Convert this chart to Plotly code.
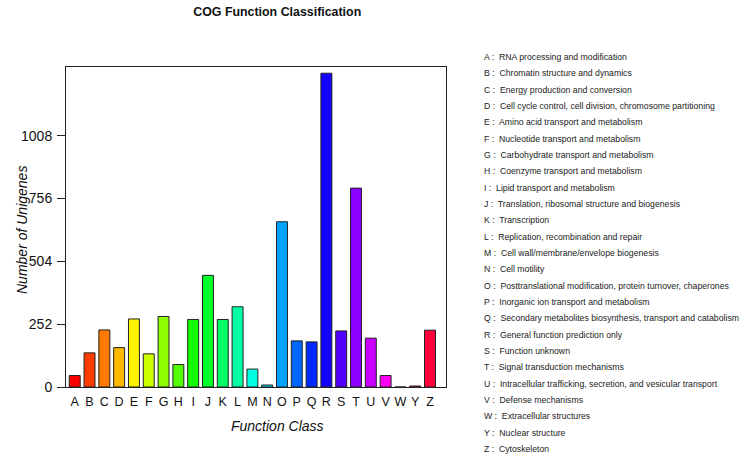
import colorsys
import plotly.graph_objects as go

# COG classes and counts
classes = ['A', 'B', 'C', 'D', 'E', 'F', 'G', 'H', 'I', 'J', 'K', 'L', 'M',
           'N', 'O', 'P', 'Q', 'R', 'S', 'T', 'U', 'V', 'W', 'Y', 'Z']
counts = [46, 137, 229, 158, 273, 133, 283, 90, 271, 448, 271, 322, 72,
          8, 663, 185, 181, 1259, 225, 798, 196, 46, 0, 4, 228]
descriptions = [
    'RNA processing and modification',
    'Chromatin structure and dynamics',
    'Energy production and conversion',
    'Cell cycle control, cell division, chromosome partitioning',
    'Amino acid transport and metabolism',
    'Nucleotide transport and metabolism',
    'Carbohydrate transport and metabolism',
    'Coenzyme transport and metabolism',
    'Lipid transport and metabolism',
    'Translation, ribosomal structure and biogenesis',
    'Transcription',
    'Replication, recombination and repair',
    'Cell wall/membrane/envelope biogenesis',
    'Cell motility',
    'Posttranslational modification, protein turnover, chaperones',
    'Inorganic ion transport and metabolism',
    'Secondary metabolites biosynthesis, transport and catabolism',
    'General function prediction only',
    'Function unknown',
    'Signal transduction mechanisms',
    'Intracellular trafficking, secretion, and vesicular transport',
    'Defense mechanisms',
    'Extracellular structures',
    'Nuclear structure',
    'Cytoskeleton',
]
y_ticks = [0, 252, 504, 756, 1008]

FONT = 'Liberation Sans, Arial, sans-serif'

# R-style rainbow palette
n = len(classes)
colors = []
for i in range(n):
    r, g, b = colorsys.hsv_to_rgb(i / n, 1, 1)
    colors.append('rgb(%d,%d,%d)' % (r * 255, g * 255, b * 255))

fig = go.Figure()
fig.add_trace(go.Bar(
    x=classes, y=counts,
    marker=dict(color=colors, line=dict(color='#222', width=1)),
    showlegend=False,
))

# class legend on the right, one text row per class
W, H = 743, 457
L, R, T, B = 66, 297, 67, 70
pw, ph = W - L - R, H - T - B
for i, (c, d) in enumerate(zip(classes, descriptions)):
    ypix = 57 + i * 16.33
    fig.add_annotation(
        x=(482 - L) / pw, y=(H - B - ypix) / ph, xref='paper', yref='paper',
        text=c + ' :  ' + d, showarrow=False, xanchor='left', yanchor='middle',
        font=dict(family=FONT, size=8.7, color='#222'),
    )

fig.add_annotation(
    x=(277 - L) / pw, y=(H - B - 436) / ph, xref='paper', yref='paper',
    text='<i>Function Class</i>', showarrow=False,
    font=dict(family=FONT, size=14, color='#111'),
)
fig.add_annotation(
    x=(12 - L) / pw, y=(H - B - 230) / ph, xref='paper', yref='paper',
    text='<i>Number of Unigenes</i>', showarrow=False, textangle=-90,
    font=dict(family=FONT, size=14, color='#111'),
)

fig.update_layout(
    width=W, height=H,
    margin=dict(l=L, r=R, t=T, b=B),
    paper_bgcolor='white', plot_bgcolor='white',
    bargap=0.26,
    title=dict(text='<b>COG Function Classification</b>', x=413 / W, xanchor='center',
               y=1 - 12 / H, yanchor='middle', xref='paper',
               font=dict(family=FONT, size=12.4, color='#111')),
    xaxis=dict(range=[-0.59, 25.08], showline=True, mirror=True, linecolor='#222',
               linewidth=1, ticks='', showgrid=False, ticklabelstandoff=3,
               tickmode='array', tickvals=classes, ticktext=classes,
               tickfont=dict(family=FONT, size=12.5, color='#111')),
    yaxis=dict(range=[0, 1284], tickvals=y_ticks, showline=True, mirror=True,
               linecolor='#222', linewidth=1, ticks='outside', ticklen=8,
               tickcolor='#222', showgrid=False, zeroline=False, ticklabelstandoff=2,
               tickfont=dict(family=FONT, size=14, color='#111')),
)

# drop the browser's default body margin so the figure sits at the page origin
fig.write_html("out.html", config={'displayModeBar': False},
               post_script="document.body.style.margin='0';")
